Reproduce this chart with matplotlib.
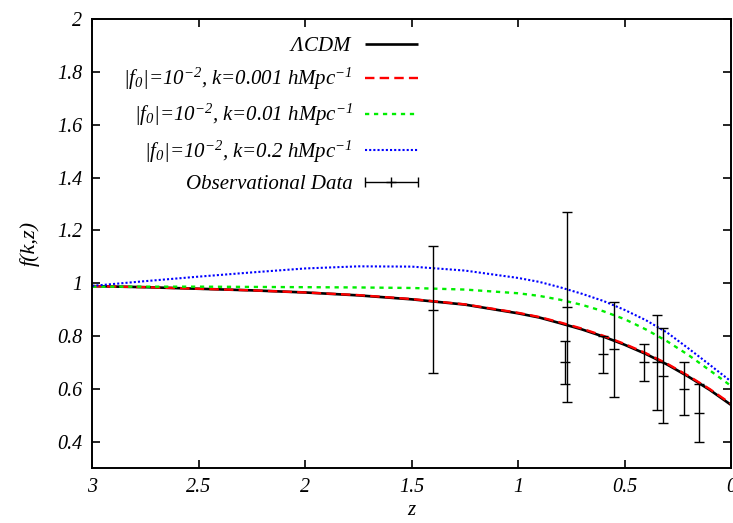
import numpy as np
import matplotlib
matplotlib.use("Agg")
import matplotlib.pyplot as plt
from matplotlib.ticker import FixedLocator, FixedFormatter
from matplotlib.legend_handler import HandlerErrorbar

plt.rcParams['font.family'] = ['Liberation Serif', 'DejaVu Serif']
plt.rcParams['font.style'] = 'italic'
plt.rcParams['mathtext.fontset'] = 'custom'
plt.rcParams['mathtext.rm'] = 'Liberation Serif:italic'
plt.rcParams['mathtext.it'] = 'Liberation Serif:italic'
plt.rcParams['mathtext.bf'] = 'Liberation Serif:bold:italic'

# redshift grid the curves were read at
z_curve = [3.0, 2.75, 2.5, 2.25, 2.0, 1.75, 1.5, 1.25, 1.0, 0.9, 0.8,
           0.7, 0.6, 0.5, 0.4, 0.3, 0.2, 0.1, 0.0]

f_lcdm = [0.989, 0.985, 0.979, 0.973, 0.965, 0.954, 0.939, 0.919, 0.886,
          0.870, 0.848, 0.825, 0.798, 0.767, 0.732, 0.692, 0.646, 0.596, 0.539]
f_k0001 = [0.989, 0.985, 0.979, 0.973, 0.965, 0.955, 0.940, 0.920, 0.888,
           0.872, 0.851, 0.828, 0.801, 0.770, 0.735, 0.695, 0.649, 0.599, 0.543]
f_k001 = [0.987, 0.987, 0.987, 0.986, 0.985, 0.984, 0.982, 0.976, 0.962,
          0.952, 0.937, 0.918, 0.894, 0.864, 0.825, 0.780, 0.728, 0.670, 0.611]
f_k02 = [0.990, 1.008, 1.025, 1.041, 1.056, 1.064, 1.063, 1.048, 1.020,
         1.005, 0.984, 0.960, 0.933, 0.899, 0.860, 0.813, 0.753, 0.691, 0.628]

# observational growth rate data
z_obs = [1.4, 0.77, 0.78, 0.60, 0.55, 0.41, 0.35, 0.32, 0.22, 0.15]
f_obs = [0.90, 0.91, 0.70, 0.73, 0.75, 0.70, 0.70, 0.65, 0.60, 0.51]
f_err = [0.24, 0.36, 0.08, 0.07, 0.18, 0.07, 0.18, 0.18, 0.10, 0.11]

xticks = [3, 2.5, 2, 1.5, 1, 0.5, 0]
xticklabels = ['3', '2.5', '2', '1.5', '1', '0.5', '0']
yticks = [0.4, 0.6, 0.8, 1.0, 1.2, 1.4, 1.6, 1.8, 2.0]
yticklabels = ['0.4', '0.6', '0.8', '1', '1.2', '1.4', '1.6', '1.8', '2']

labels = [r'$\Lambda$CDM',
          r'|f$_0$|=10$^{-2}$, k=0.001 hMpc$^{-1}$',
          r'|f$_0$|=10$^{-2}$, k=0.01 hMpc$^{-1}$',
          r'|f$_0$|=10$^{-2}$, k=0.2 hMpc$^{-1}$',
          'Observational Data']

fig = plt.figure(figsize=(7.33, 5.23), dpi=100)
ax = fig.add_axes([0.1259, 0.1052, 0.9973 - 0.1259, 0.9631 - 0.1052])

l1, = ax.plot(z_curve, f_lcdm, color='black', lw=1.9, solid_capstyle='butt')
l2, = ax.plot(z_curve, f_k0001, color='#ff0000', lw=1.7, linestyle=(0, (4, 2.2)))
l3, = ax.plot(z_curve, f_k001, color='#00ee00', lw=1.7, linestyle=(0, (1.8, 2.0)))
l4, = ax.plot(z_curve, f_k02, color='#0000ff', lw=1.5, linestyle=(0, (1.0, 1.0)))

ax.errorbar(z_obs, f_obs, yerr=f_err, fmt='none', ecolor='black',
            elinewidth=1.0, capsize=3.3, capthick=1.0, zorder=5)
ax.plot(z_obs, f_obs, linestyle='none', marker='_', color='black',
        ms=6.5, mew=1.0, zorder=5)

# legend proxy drawn as gnuplot does: horizontal bar with caps
proxy = ax.errorbar([np.nan], [np.nan], xerr=[0.1], fmt='+', color='black',
                    elinewidth=1.0, capsize=3.3, ms=7, mew=1.0)

leg = ax.legend([l1, l2, l3, l4, proxy], labels, loc='upper right',
                bbox_to_anchor=(0.51, 0.962), frameon=False, markerfirst=False,
                fontsize=15, handlelength=2.55, handletextpad=0.58,
                labelspacing=0.48, borderpad=0, borderaxespad=0,
                handler_map={type(proxy): HandlerErrorbar(xerr_size=1.27)})

ax.set_xlim(3, 0)
ax.set_ylim(0.3, 2)
ax.xaxis.set_major_locator(FixedLocator(xticks))
ax.xaxis.set_major_formatter(FixedFormatter(xticklabels))
ax.yaxis.set_major_locator(FixedLocator(yticks))
ax.yaxis.set_major_formatter(FixedFormatter(yticklabels))
ax.tick_params(direction='in', length=6, width=1.2, top=True, right=True,
               labelsize=14.5, pad=7)
for s in ax.spines.values():
    s.set_linewidth(1.4)

ax.set_xlabel('z', fontsize=15, labelpad=3)
ax.set_ylabel('f(k,z)', fontsize=16, labelpad=13)

fig.savefig('out.png', dpi=100)
